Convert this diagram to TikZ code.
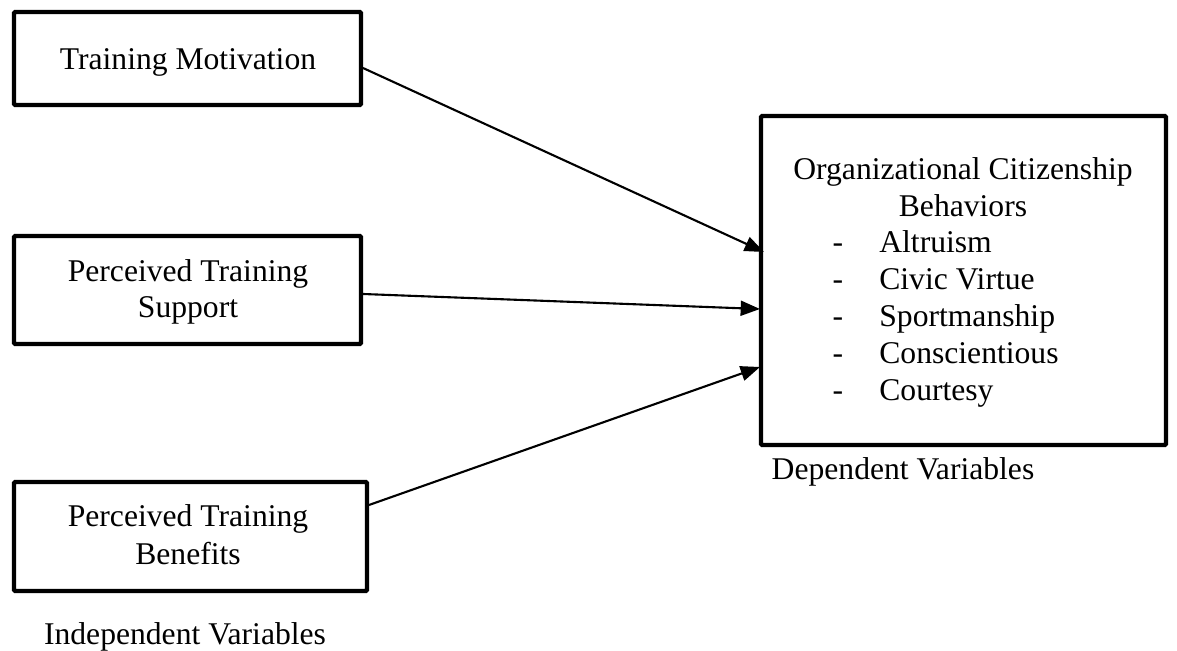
\documentclass[tikz,border=0pt]{standalone}
\usepackage{fontspec}
\setmainfont{Liberation Serif}
\usetikzlibrary{arrows.meta}
\begin{document}
\begin{tikzpicture}[x=0.02cm,y=-0.02cm,
  box/.style={draw,line width=2.3pt,rounded corners=0.5pt},
  txt/.style={font=\fontsize{18}{21}\selectfont,inner sep=0pt,anchor=base},
  link/.style={line width=1.2pt,-{Triangle[length=11pt,width=8.5pt]}}]
\useasboundingbox (0,0) rectangle (1177,651);
\draw[box] (14,12) rectangle (361,105);
\draw[box] (14,236) rectangle (361,344);
\draw[box] (14,482) rectangle (367,591);
\draw[box] (761,116) rectangle (1166,445);
\node[txt] (t1) at (188,70) {Training Motivation};
\node[txt] (t2a) at (188,282) {Perceived Training};
\node[txt] (t2b) at (188,318) {Support};
\node[txt] (t3a) at (188,527) {Perceived Training};
\node[txt] (t3b) at (188,565) {Benefits};
\node[txt] (iv) at (185,644) {Independent Variables};
\node[txt] (o1) at (963,180) {Organizational Citizenship};
\node[txt] (o2) at (963,217) {Behaviors};
\foreach \t [count=\i] in {Altruism,Civic Virtue,Sportmanship,Conscientious,Courtesy}{
  \node[txt] (d\i) at (838,253+36.9*\i-36.9) {-};
  \node[txt,anchor=base west] (i\i) at (879,253+36.9*\i-36.9) {\t};
}
\node[txt] (dv) at (903,480) {Dependent Variables};
\coordinate (s1) at (363,68);
\coordinate (s2) at (363,294);
\coordinate (s3) at (369,505);
\coordinate (e1) at (764,252);
\coordinate (e2) at (760,309);
\coordinate (e3) at (760,367);
\draw[link] (s1) -- (e1);
\draw[link] (s2) -- (e2);
\draw[link] (s3) -- (e3);
\end{tikzpicture}
\end{document}
